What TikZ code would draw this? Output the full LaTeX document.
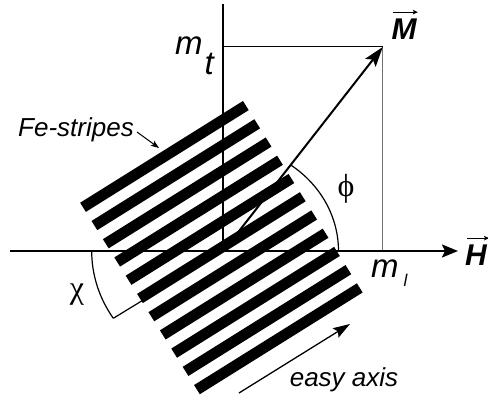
\documentclass[tikz,border=0pt]{standalone}
\usepackage{fontspec}
\setmainfont{Liberation Sans}
\newfontfamily\serifgr{Liberation Serif}
\usetikzlibrary{arrows.meta}
\begin{document}
\begin{tikzpicture}[x=1pt,y=1pt,
  axisline/.style={line width=2pt},
  thinline/.style={line width=1pt},
  arcline/.style={line width=1.2pt},
  stripebar/.style={line width=10.8pt, line cap=butt},
  bigtip/.style={-{Stealth[length=20pt,width=13pt,inset=4pt]}},
  axtip/.style={-{Stealth[length=16pt,width=13pt,inset=3pt]}},
  easytip/.style={-{Stealth[length=17pt,width=11pt,inset=3pt]}},
  smalltip/.style={-{Stealth[length=8pt,width=6pt,inset=1.5pt]}},
  vectip/.style={line width=1.2pt,-{Stealth[length=5pt,width=4.5pt,inset=1pt]}},
  itlab/.style={inner sep=0pt, font=\fontsize{26}{30}\selectfont\itshape},
  mlab/.style={inner sep=0pt, font=\fontsize{33}{36}\selectfont\itshape},
  veclab/.style={inner sep=0pt, font=\fontsize{30}{32}\selectfont\bfseries\itshape},
  greeklab/.style={inner sep=0pt, font=\fontsize{32}{34}\selectfont\serifgr}
]
\useasboundingbox (-223.5,-150) rectangle (264.5,251);

% coordinates
\coordinate (O) at (0,0);
\coordinate (Ytop) at (0,247);
\coordinate (Xl) at (-213.5,0);
\coordinate (Xr) at (234.5,0);
\coordinate (Mt) at (159.3,204);
\coordinate (Mtax) at (0,204);
\coordinate (Mlax) at (159.3,0);
\coordinate (Chiend) at (-110.2,-67.3);
\coordinate (Ea) at (15.5,-142);
\coordinate (Eb) at (126.5,-73);
\coordinate (Fa) at (-86.5,119);
\coordinate (Fb) at (-64.5,103);

% projection lines
\draw[thinline] (Mtax) -- (Mt);
\draw[thinline, black!55] (Mt) -- (Mlax);

% axes
\draw[axisline] (O) -- (Ytop);
\draw[axisline, axtip] (Xl) -- (Xr);

% chi line and arc
\draw[arcline] (O) -- (Chiend);
\draw[arcline] (-131.8,0) arc[start angle=180, end angle=213.25, x radius=131.8, y radius=122.7];

% stripes
\begin{scope}[rotate=32]
  \foreach \i in {-5,...,5} {
    \draw[stripebar] (-96,{4+21.5*\i}) -- (96,{4+21.5*\i});
  }
\end{scope}

% phi arc
\draw[arcline] (115,0) arc[start angle=0, end angle=54.2, x radius=115, y radius=106];

% magnetisation vector
\draw[axisline, bigtip] (O) -- (Mt);

% easy axis arrow
\draw[line width=1.3pt, easytip] (Ea) -- (Eb);

% Fe-stripes pointer
\draw[thinline, smalltip] (Fa) -- (Fb);

% labels
\node[itlab, anchor=base west] (fe) at (-205.5,114) {Fe-stripes};
\node[itlab, anchor=base] (easy) at (120.5,-136) {easy axis};
\node[mlab, anchor=base west] (mt) at (-48.5,196) {m\hspace{2pt}\raisebox{-20pt}{t}};
\node[mlab, anchor=base west] (ml) at (147.5,-27) {m\hspace{5pt}\raisebox{-9pt}{\fontsize{17}{18}\selectfont l}};
\node[greeklab] (phi) at (122.5,62) {ϕ};
\node[greeklab] (chi) at (-146.5,-44) {χ};
\node[veclab, anchor=base west] (Mlab) at (168,211) {M};
\node[veclab, anchor=base west] (Hlab) at (241.5,-15) {H};
\draw[vectip] ([xshift=2pt,yshift=7pt]Mlab.north west) -- ([xshift=1pt,yshift=7pt]Mlab.north east);
\draw[vectip] ([xshift=2pt,yshift=7pt]Hlab.north west) -- ([xshift=2pt,yshift=7pt]Hlab.north east);
\end{tikzpicture}
\end{document}
